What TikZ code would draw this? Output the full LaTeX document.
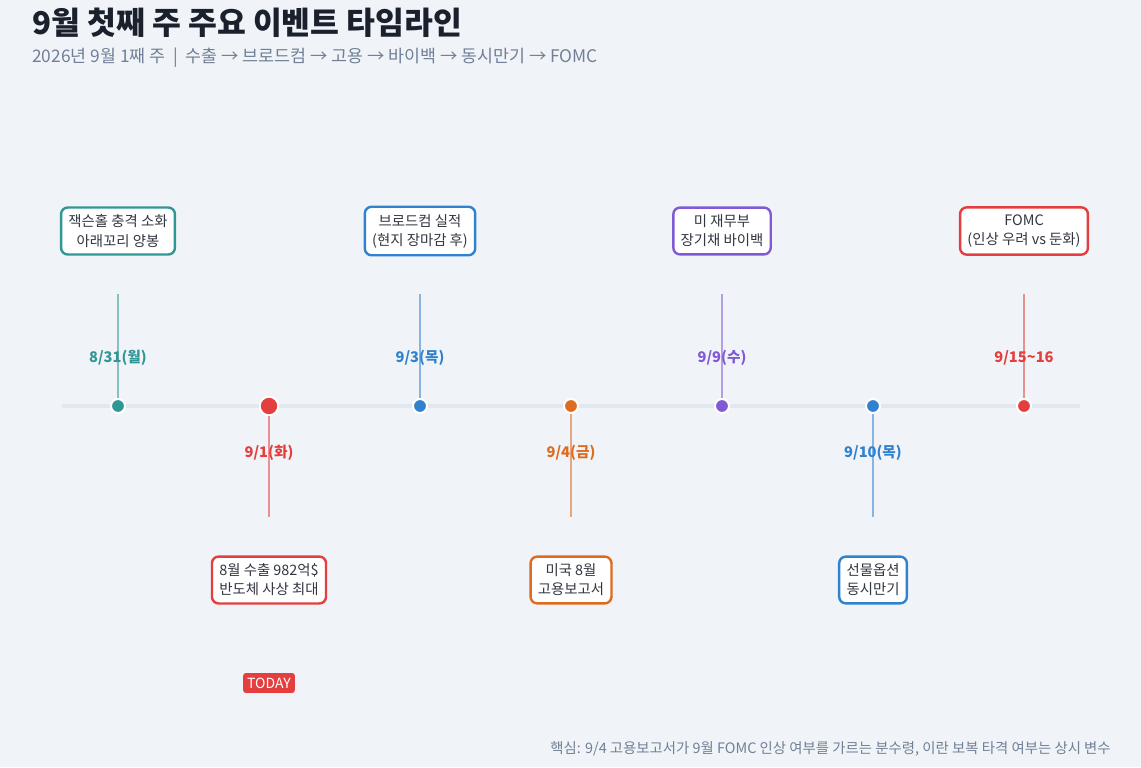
\documentclass[tikz,border=0pt]{standalone}
\usepackage{fontspec}
\setmainfont{Noto Sans CJK KR}
\definecolor{bgc}{HTML}{F0F4F8}
\definecolor{axisc}{HTML}{E2E8F0}
\definecolor{titlec}{HTML}{1A202C}
\definecolor{subc}{HTML}{718096}
\definecolor{tealc}{HTML}{319795}
\definecolor{redc}{HTML}{E53E3E}
\definecolor{bluec}{HTML}{3182CE}
\definecolor{orangec}{HTML}{DD6B20}
\definecolor{purplec}{HTML}{805AD5}
\tikzset{
  evbox/.style={draw=#1, fill=white, line width=1.8pt, rounded corners=5pt, align=center,
    font=\fontsize{10.8}{14.3}\selectfont, text=titlec!90, inner xsep=5.5pt, inner ysep=5.5pt},
  evdot/.style={circle, fill=#1, draw=white, line width=1.5pt, minimum size=10.5pt, inner sep=0pt},
  datelbl/.style={text=#1, font=\bfseries\fontsize{11}{13}\selectfont},
  stem/.style={draw=#1, draw opacity=.55, line width=1.5pt}
}
\begin{document}
\begin{tikzpicture}[x=0.75pt,y=-0.75pt]
    \fill[bgc] (0,0) rectangle (1141,767);
    \useasboundingbox (0,0) rectangle (1141,767);
    \node[anchor=base west, text=titlec, font=\bfseries\fontsize{23.5}{27}\selectfont, inner sep=0pt] (T) at (32,35) {9월 첫째 주 주요 이벤트 타임라인};
    \node[anchor=base west, text=subc, font=\fontsize{13}{15}\selectfont, inner sep=0pt] (S) at (32,63) {2026년 9월 1째 주 \ | \ 수출 → 브로드컴 → 고용 → 바이백 → 동시만기 → FOMC};

    \coordinate (L) at (62,406);
    \coordinate (R) at (1080,406);
    \draw[axisc, line width=3.5pt] (L)--(R);

    \node[datelbl=tealc]   (DA) at (118,358) {8/31(월)};
    \node[datelbl=redc]    (DB) at (269,453) {9/1(화)};
    \node[datelbl=bluec]   (DC) at (420,358) {9/3(목)};
    \node[datelbl=orangec] (DD) at (571,453) {9/4(금)};
    \node[datelbl=purplec] (DE) at (722,358) {9/9(수)};
    \node[datelbl=bluec]   (DF) at (873,453) {9/10(목)};
    \node[datelbl=redc]    (DG) at (1024,358) {9/15\textasciitilde16};

    \node[evdot=tealc]   (PA) at (118,406) {};
    \node[evdot=redc, minimum size=14pt] (PB) at (269,406) {};
    \node[evdot=bluec]   (PC) at (420,406) {};
    \node[evdot=orangec] (PD) at (571,406) {};
    \node[evdot=purplec] (PE) at (722,406) {};
    \node[evdot=bluec]   (PF) at (873,406) {};
    \node[evdot=redc]    (PG) at (1024,406) {};

    \coordinate (EA) at (118,294);
    \coordinate (EB) at (269,517);
    \coordinate (EC) at (420,294);
    \coordinate (ED) at (571,517);
    \coordinate (EE) at (722,294);
    \coordinate (EF) at (873,517);
    \coordinate (EG) at (1024,294);

    \draw[stem=tealc]   (EA)--(PA);
    \draw[stem=redc]    (PB)--(EB);
    \draw[stem=bluec]   (EC)--(PC);
    \draw[stem=orangec] (PD)--(ED);
    \draw[stem=purplec] (EE)--(PE);
    \draw[stem=bluec]   (PF)--(EF);
    \draw[stem=redc]    (EG)--(PG);

    \node[evbox=tealc]   (BA) at (118,231) {잭슨홀 충격 소화\\아래꼬리 양봉};
    \node[evbox=redc]    (BB) at (269,580) {8월 수출 982억\$\\반도체 사상 최대};
    \node[evbox=bluec]   (BC) at (420,231) {브로드컴 실적\\(현지 장마감 후)};
    \node[evbox=orangec] (BD) at (571,580) {미국 8월\\고용보고서};
    \node[evbox=purplec] (BE) at (722,231) {미 재무부\\장기채 바이백};
    \node[evbox=bluec]   (BF) at (873,580) {선물옵션\\동시만기};
    \node[evbox=redc]    (BG) at (1024,231) {FOMC\\(인상 우려 vs 둔화)};

    \node[fill=redc, text=white, rounded corners=2pt, font=\fontsize{10.5}{12}\selectfont, inner xsep=3pt, inner ysep=3.5pt] (TD) at (269,683) {TODAY};

    \node[anchor=base east, text=subc, font=\fontsize{10.8}{13}\selectfont, inner sep=0pt] (F) at (1111,753) {핵심: 9/4 고용보고서가 9월 FOMC 인상 여부를 가르는 분수령, 이란 보복 타격 여부는 상시 변수};
\end{tikzpicture}
\end{document}
